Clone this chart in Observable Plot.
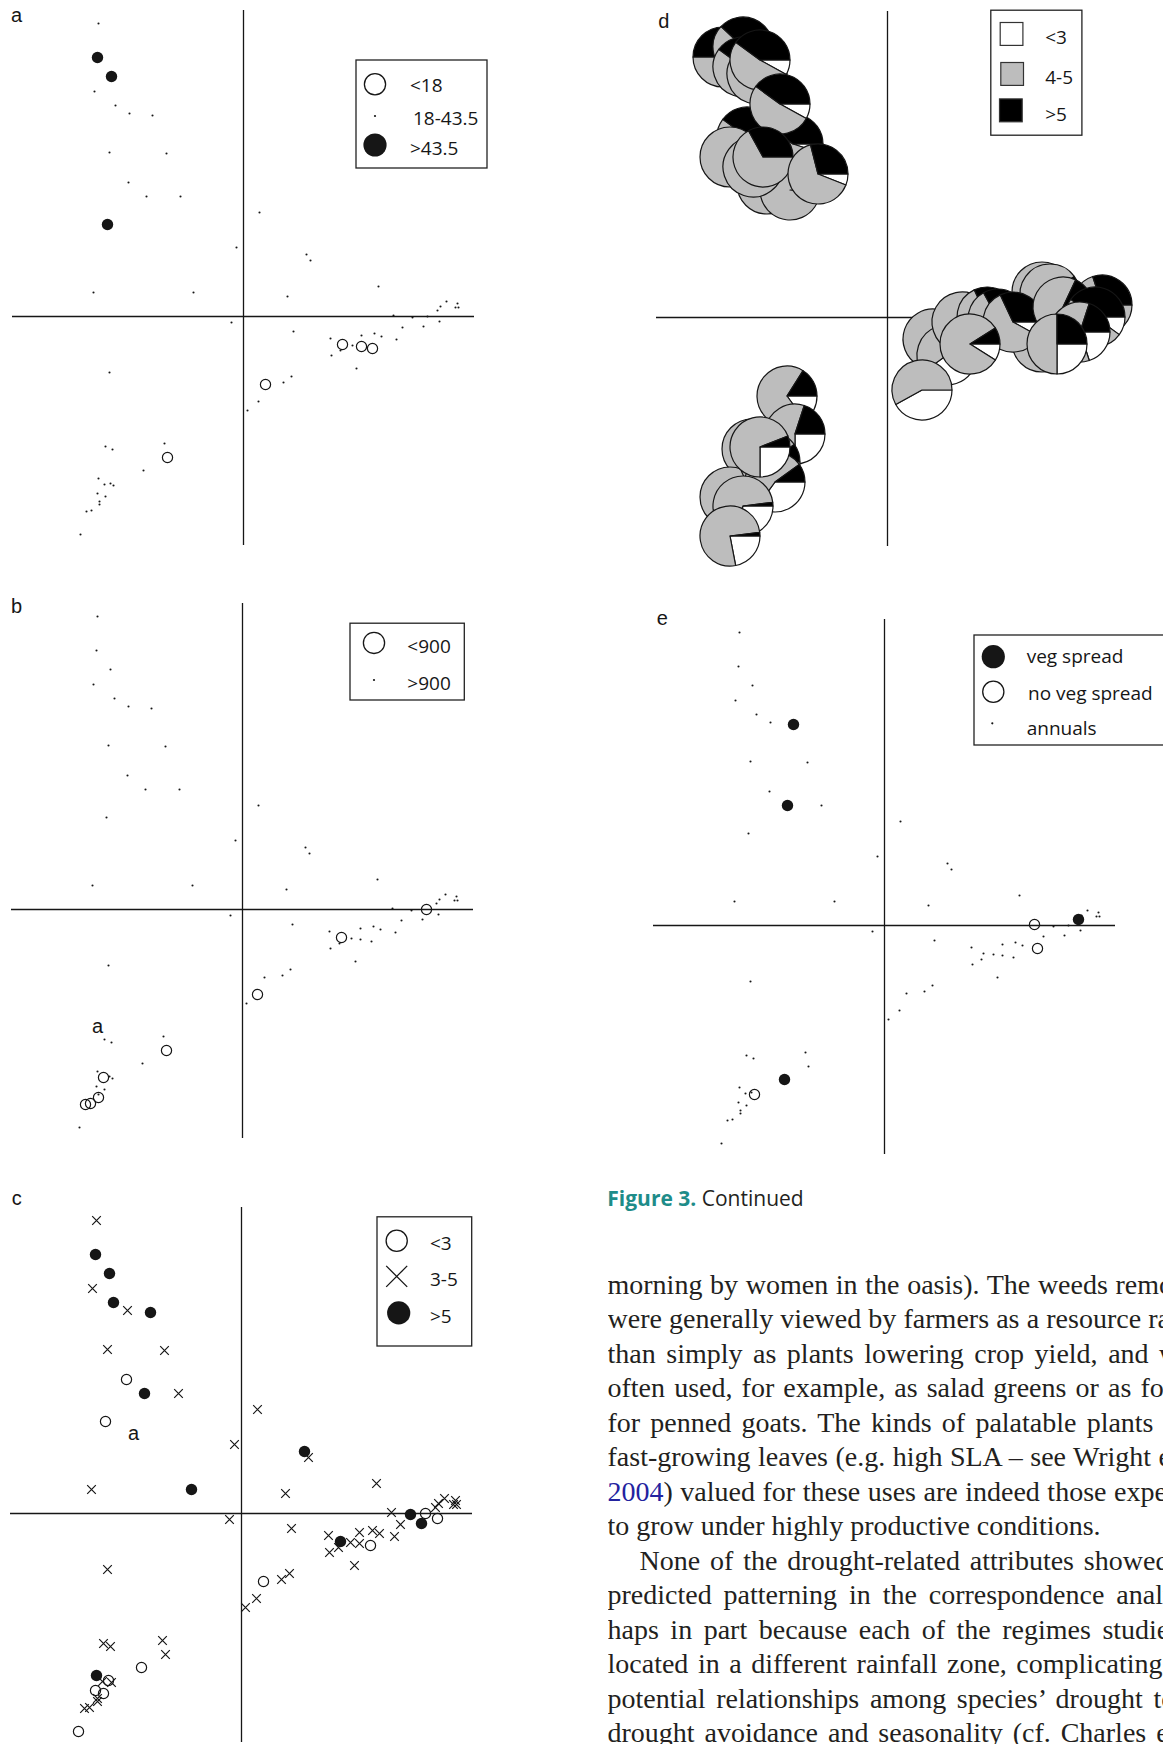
<!DOCTYPE html>
<html><head><meta charset="utf-8">
<script src="https://cdn.jsdelivr.net/npm/d3@7"></script>
<script src="https://cdn.jsdelivr.net/npm/@observablehq/plot@0.6"></script>
<style>
html,body{margin:0;padding:0;background:#fff;}
#page{position:relative;width:1163px;height:1744px;overflow:hidden;background:#fff;}
.panel{position:absolute;}
.panel svg{overflow:visible;}
#overlay{position:absolute;left:0;top:0;pointer-events:none;}
#body{position:absolute;left:607.5px;top:1267.5px;font-family:"Liberation Serif","Times New Roman",serif;font-size:28px;color:#231f20;}
#body div{width:606px;height:34.5px;line-height:34.5px;overflow:hidden;text-align:justify;text-align-last:justify;}
#body div.last{text-align:left;text-align-last:left;}
#body div.ind{padding-left:32px;width:574px;}
#body span.ref{color:#23239f;}
</style></head>
<body><div id="page"></div>
<script>
// ---- shared species ordination scores (CA axis 1, axis 2) ----
const speciesX = [-1.45,-1.46,-1.32,-1.49,-1.28,-1.14,-0.91,-1.34,-0.77,-1.15,-0.97,-0.63,-1.36,0.16,-0.07,0.63,0.67,1.35,-1.50,-0.50,0.44,2.03,1.97,1.94,2.14,2.12,2.15,1.50,1.69,1.84,1.96,1.80,1.59,-0.12,0.50,1.53,0.87,1.18,1.31,1.38,0.97,1.09,0.88,1.13,0.48,0.40,0.15,0.04,-1.34,-0.79,-1.38,-1.31,-1.00,-1.45,-1.39,-1.33,-1.30,-1.46,-1.38,-1.44,-1.44,-1.57,-1.52,-1.63,0.99,1.18,1.29,0.22,-0.76];
const speciesY = [2.93,2.59,2.40,2.25,2.11,2.03,2.01,1.64,1.63,1.34,1.20,1.20,0.92,1.04,0.69,0.62,0.56,0.30,0.24,0.24,0.20,0.15,0.10,0.06,0.13,0.09,0.09,0.01,-0.01,0.00,-0.05,-0.10,-0.11,-0.06,-0.15,-0.23,-0.22,-0.19,-0.17,-0.20,-0.34,-0.29,-0.39,-0.52,-0.60,-0.66,-0.85,-0.94,-0.56,-1.27,-1.30,-1.33,-1.54,-1.62,-1.68,-1.67,-1.69,-1.77,-1.80,-1.85,-1.88,-1.95,-1.94,-2.18,-0.28,-0.30,-0.32,-0.68,-1.41];

// ---- panel a: categories (species index lists; others = middle class) ----
const aLabels = ["<18", "18-43.5", ">43.5"];
const aLow = [64,65,66,67,68];
const aHigh = [1,2,12];
// ---- panel b ----
const bLabels = ["<900", ">900"];
const bLow = [29,46,54,60,61,62,64,68];
const bNote = {x: [-1.45], y: [-1.175], text: ["a"]};
// ---- panel c ----
const cLabels = ["<3", "3-5", ">5"];
const cLow = [9,12,29,30,52,55,57,58,63,66,67];
const cHigh = [1,2,4,6,10,15,19,28,31,53,64];
const cNote = {x: [-1.08], y: [0.80], text: ["a"]};
// ---- panel e ----
const eLabels = ["veg spread", "no veg spread", "annuals"];
const eVeg = [6,10,23,52];
const eNoVeg = [27,35,56];

// ---- panel d: pies (site scores + proportions) ----
const dLabels = ["<3", "4-5", ">5"];
const pieX  = [-1.64,-1.44,-1.44,-1.30,-1.27,-1.40,-0.94,-1.07,-1.20,-0.97,-1.57,-1.34,-1.24,-0.69,
               1.55,1.63,2.15,1.55,0.46,0.60,0.35,0.75,1.00,1.11,1.26,1.76,2.08,1.93,0.83,1.70,
               -1.00,-0.92,-1.35,-1.57,-1.17,-1.12,-1.27,-1.44,-1.57];
const pieY  = [2.60,2.70,2.50,2.43,2.57,1.80,1.73,2.13,1.33,1.27,1.60,1.50,1.60,1.43,
               0.25,0.23,0.12,-0.25,-0.22,-0.38,-0.73,-0.05,0.00,-0.02,-0.05,0.10,0.00,-0.15,-0.27,-0.27,
               -0.79,-1.17,-1.32,-1.80,-1.45,-1.65,-1.30,-1.89,-2.19];
const pieLt3 = [0,0,0,0,0.08,0,0.05,0.08,0,0.02,0,0,0,0.06,
                0,0,0,0,0.33,0.40,0.42,0.05,0.08,0.12,0.08,0.10,0.10,0.20,0.09,0.25,
                0.15,0.25,0,0,0.30,0.35,0.25,0.30,0.22];
const pie45  = [0.50,0.62,0.60,0.60,0.52,0.60,0.55,0.52,1,0.98,1,0.90,0.67,0.65,
                1,0.90,0.70,1,0.67,0.60,0.58,0.80,0.60,0.55,0.60,0.72,0.50,0.60,0.82,0.50,
                0.69,0.55,1,1,0.60,0.55,0.69,0.68,0.76];
const pieGt5 = [0.50,0.38,0.40,0.40,0.40,0.40,0.40,0.40,0,0,0,0.10,0.33,0.29,
                0,0.10,0.30,0,0,0,0,0.15,0.32,0.33,0.32,0.18,0.40,0.20,0.09,0.25,
                0.16,0.20,0,0,0.10,0.10,0.06,0.02,0.02];

// ---------------- drawing ----------------
const INK = "#161616";
const W = 462, H = 535;
const xDom = [-2.31, 2.31], yDom = [-2.29, 3.06];

function speciesTable(lowIdx, highIdx, labels, defaultLabel) {
  return speciesX.map((x, i) => ({
    x, y: speciesY[i],
    cat: lowIdx.includes(i) ? labels.low : highIdx.includes(i) ? labels.high : defaultLabel
  }));
}

function basePlot(marks) {
  return Plot.plot({
    width: W, height: H, margin: 0,
    x: {domain: xDom, axis: null},
    y: {domain: yDom, axis: null},
    style: {overflow: "visible", background: "transparent"},
    marks: [
      Plot.ruleX([0], {stroke: INK, strokeWidth: 1.3}),
      Plot.ruleY([0], {stroke: INK, strokeWidth: 1.3}),
      ...marks
    ]
  });
}

const dotOpts = {x: "x", y: "y", r: 1.05, fill: INK};
const openOpts = {x: "x", y: "y", r: 5.1, stroke: INK, strokeWidth: 1.2, fill: "none"};
const fillOpts = {x: "x", y: "y", r: 5.7, fill: INK};
const crossOpts = {x: "x", y: "y", r: 4, symbol: "times", stroke: INK, strokeWidth: 1.2};
const noteOpts = {x: "x", y: "y", text: "text", fontSize: 20, fontFamily: "Liberation Sans, Arial, sans-serif", fill: INK};

function noteRows(n) { return n.x.map((x, i) => ({x, y: n.y[i], text: n.text[i]})); }

// panel a
const A = speciesTable(aLow, aHigh, {low: aLabels[0], high: aLabels[2]}, aLabels[1]);
const plotA = basePlot([
  Plot.dot(A.filter(d => d.cat === aLabels[1]), dotOpts),
  Plot.dot(A.filter(d => d.cat === aLabels[0]), openOpts),
  Plot.dot(A.filter(d => d.cat === aLabels[2]), fillOpts)
]);
// panel b
const B = speciesTable(bLow, [], {low: bLabels[0], high: null}, bLabels[1]);
const plotB = basePlot([
  Plot.dot(B.filter(d => d.cat === bLabels[1]), dotOpts),
  Plot.dot(B.filter(d => d.cat === bLabels[0]), openOpts),
  Plot.text(noteRows(bNote), noteOpts)
]);
// panel c
const C = speciesTable(cLow, cHigh, {low: cLabels[0], high: cLabels[2]}, cLabels[1]);
const plotC = basePlot([
  Plot.dot(C.filter(d => d.cat === cLabels[1]), crossOpts),
  Plot.dot(C.filter(d => d.cat === cLabels[0]), openOpts),
  Plot.dot(C.filter(d => d.cat === cLabels[2]), fillOpts),
  Plot.text(noteRows(cNote), noteOpts)
]);
// panel e
const E = speciesTable(eNoVeg, eVeg, {low: eLabels[1], high: eLabels[0]}, eLabels[2]);
const plotE = basePlot([
  Plot.dot(E.filter(d => d.cat === eLabels[2]), dotOpts),
  Plot.dot(E.filter(d => d.cat === eLabels[1]), openOpts),
  Plot.dot(E.filter(d => d.cat === eLabels[0]), fillOpts)
]);

// panel d: pies drawn at positions given by Plot's x/y scales
const pies = pieX.map((x, i) => ({x, y: pieY[i], parts: [pieLt3[i], pie45[i], pieGt5[i]]}));
const sliceFill = ["#ffffff", "#bdbdbd", "#000000"];
const PIE_R = 30;
function pieMark(...args) {
  const scales = args.find(a => a && typeof a.x === "function" && typeof a.y === "function");
  const g = d3.create("svg:g");
  const arc = d3.arc().innerRadius(0).outerRadius(PIE_R);
  for (const p of pies) {
    const gg = g.append("g").attr("transform", `translate(${scales.x(p.x)},${scales.y(p.y)})`);
    const total = d3.sum(p.parts);
    let a = Math.PI / 2; // start at 3 o'clock, run clockwise
    p.parts.forEach((v, k) => {
      if (!(v > 0)) return;
      const a1 = a + (v / total) * 2 * Math.PI;
      gg.append("path")
        .attr("d", arc({startAngle: a, endAngle: a1}))
        .attr("fill", sliceFill[k])
        .attr("stroke", INK).attr("stroke-width", 1.2).attr("stroke-linejoin", "round");
      a = a1;
    });
  }
  return g.node();
}
const plotD = basePlot([pieMark]);

const page = document.getElementById("page");
function place(node, left, top) {
  const div = document.createElement("div");
  div.className = "panel";
  div.style.left = left + "px";
  div.style.top = top + "px";
  div.appendChild(node);
  page.appendChild(div);
}
place(plotA, 11.7, 10.4);
place(plotB, 10.7, 602.9);
place(plotC, 9.7, 1207.2);
place(plotD, 656, 10.6);
place(plotE, 652.5, 619.4);

// ---------------- overlay: panel letters, legends, caption ----------------
const ov = d3.select(page).append("svg").attr("id", "overlay").attr("width", 1163).attr("height", 1744);
const SANS = "Open Sans, Noto Sans, sans-serif";
const LETTER = "Liberation Sans, Arial, sans-serif";
[["a", 11, 22], ["b", 11, 613], ["c", 11.7, 1205], ["d", 658.3, 28.4], ["e", 656.7, 625]].forEach(([t, x, y]) =>
  ov.append("text").attr("x", x).attr("y", y).attr("font-family", LETTER).attr("font-size", 20).attr("fill", INK).text(t));

function box(x, y, w, h) {
  ov.append("rect").attr("x", x).attr("y", y).attr("width", w).attr("height", h)
    .attr("fill", "#fff").attr("stroke", "#222").attr("stroke-width", 1.3);
}
function ltext(x, y, t) {
  ov.append("text").attr("x", x).attr("y", y).attr("font-family", SANS).attr("font-size", 19).attr("fill", INK).text(t);
}
function sym(kind, cx, cy) {
  if (kind === "open") ov.append("circle").attr("cx", cx).attr("cy", cy).attr("r", 10.6).attr("fill", "none").attr("stroke", INK).attr("stroke-width", 1.3);
  if (kind === "fill") ov.append("circle").attr("cx", cx).attr("cy", cy).attr("r", 11.6).attr("fill", INK);
  if (kind === "dot") ov.append("circle").attr("cx", cx).attr("cy", cy).attr("r", 1.1).attr("fill", INK);
  if (kind === "cross") {
    const s = 10.5;
    ov.append("path").attr("d", `M${cx - s},${cy - s}L${cx + s},${cy + s}M${cx - s},${cy + s}L${cx + s},${cy - s}`)
      .attr("stroke", INK).attr("stroke-width", 1.3);
  }
}
// legend a
box(356, 60, 131, 108);
sym("open", 375, 84.3); ltext(410, 92.3, aLabels[0]);
sym("dot", 375, 116); ltext(413, 125, aLabels[1]);
sym("fill", 375, 145); ltext(410, 155, aLabels[2]);
// legend b
box(350, 623.2, 114.3, 76.8);
sym("open", 374, 642.9); ltext(407.3, 652.5, bLabels[0]);
sym("dot", 374, 680); ltext(407.3, 690, bLabels[1]);
// legend c
box(377, 1216.8, 94.7, 129.2);
sym("open", 396.7, 1240.7); ltext(430, 1249.6, cLabels[0]);
sym("cross", 396.7, 1276.4); ltext(430, 1286.4, cLabels[1]);
sym("fill", 398.7, 1312.9); ltext(430, 1322.9, cLabels[2]);
// legend d
box(990.8, 10.2, 91.1, 125);
[[1000.2, 22.5], [1000.8, 62.5], [999.5, 98.9]].forEach(([x, y], k) =>
  ov.append("rect").attr("x", x).attr("y", y).attr("width", 22.7).attr("height", 22.9)
    .attr("fill", sliceFill[k]).attr("stroke", "#333").attr("stroke-width", 1.2));
ltext(1045.2, 44.3, dLabels[0]); ltext(1045.2, 84.3, dLabels[1]); ltext(1045.2, 120.7, dLabels[2]);
// legend e
box(974, 635, 210, 110);
sym("fill", 993.3, 656.7); ltext(1026.7, 663.3, eLabels[0]);
sym("open", 993.3, 691.7); ltext(1028, 700, eLabels[1]);
sym("dot", 992.3, 723.3); ltext(1026.7, 735, eLabels[2]);

// caption
const cap = ov.append("text").attr("x", 607.3).attr("y", 1206).attr("font-family", SANS).attr("font-size", 21);
cap.append("tspan").attr("font-weight", 700).attr("fill", "#1e8c89").text("Figure 3.");
cap.append("tspan").attr("fill", "#231f20").text(" Continued");

// body text
const bodyLines = [
  ["", "morning by women in the oasis). The weeds removed"],
  ["", "were generally viewed by farmers as a resource rather"],
  ["", "than simply as plants lowering crop yield, and were"],
  ["", "often used, for example, as salad greens or as fodder"],
  ["", "for penned goats. The kinds of palatable plants with"],
  ["", "fast-growing leaves (e.g. high SLA – see Wright et al."],
  ["ref", "2004) valued for these uses are indeed those expected"],
  ["last", "to grow under highly productive conditions."],
  ["ind", "None of the drought-related attributes showed the"],
  ["", "predicted patterning in the correspondence analysis, per-"],
  ["", "haps in part because each of the regimes studied is"],
  ["", "located in a different rainfall zone, complicating fur-"],
  ["", "potential relationships among species’ drought toler-"],
  ["", "drought avoidance and seasonality (cf. Charles et al."]
];
const body = document.createElement("div");
body.id = "body";
bodyLines.forEach(([kind, t]) => {
  const d = document.createElement("div");
  if (kind === "last") d.className = "last";
  if (kind === "ind") d.className = "ind";
  if (kind === "ref") {
    const s = document.createElement("span"); s.className = "ref"; s.textContent = "2004";
    d.appendChild(s); d.appendChild(document.createTextNode(t.slice(4)));
  } else d.textContent = t;
  body.appendChild(d);
});
page.appendChild(body);
</script>
</body></html>
